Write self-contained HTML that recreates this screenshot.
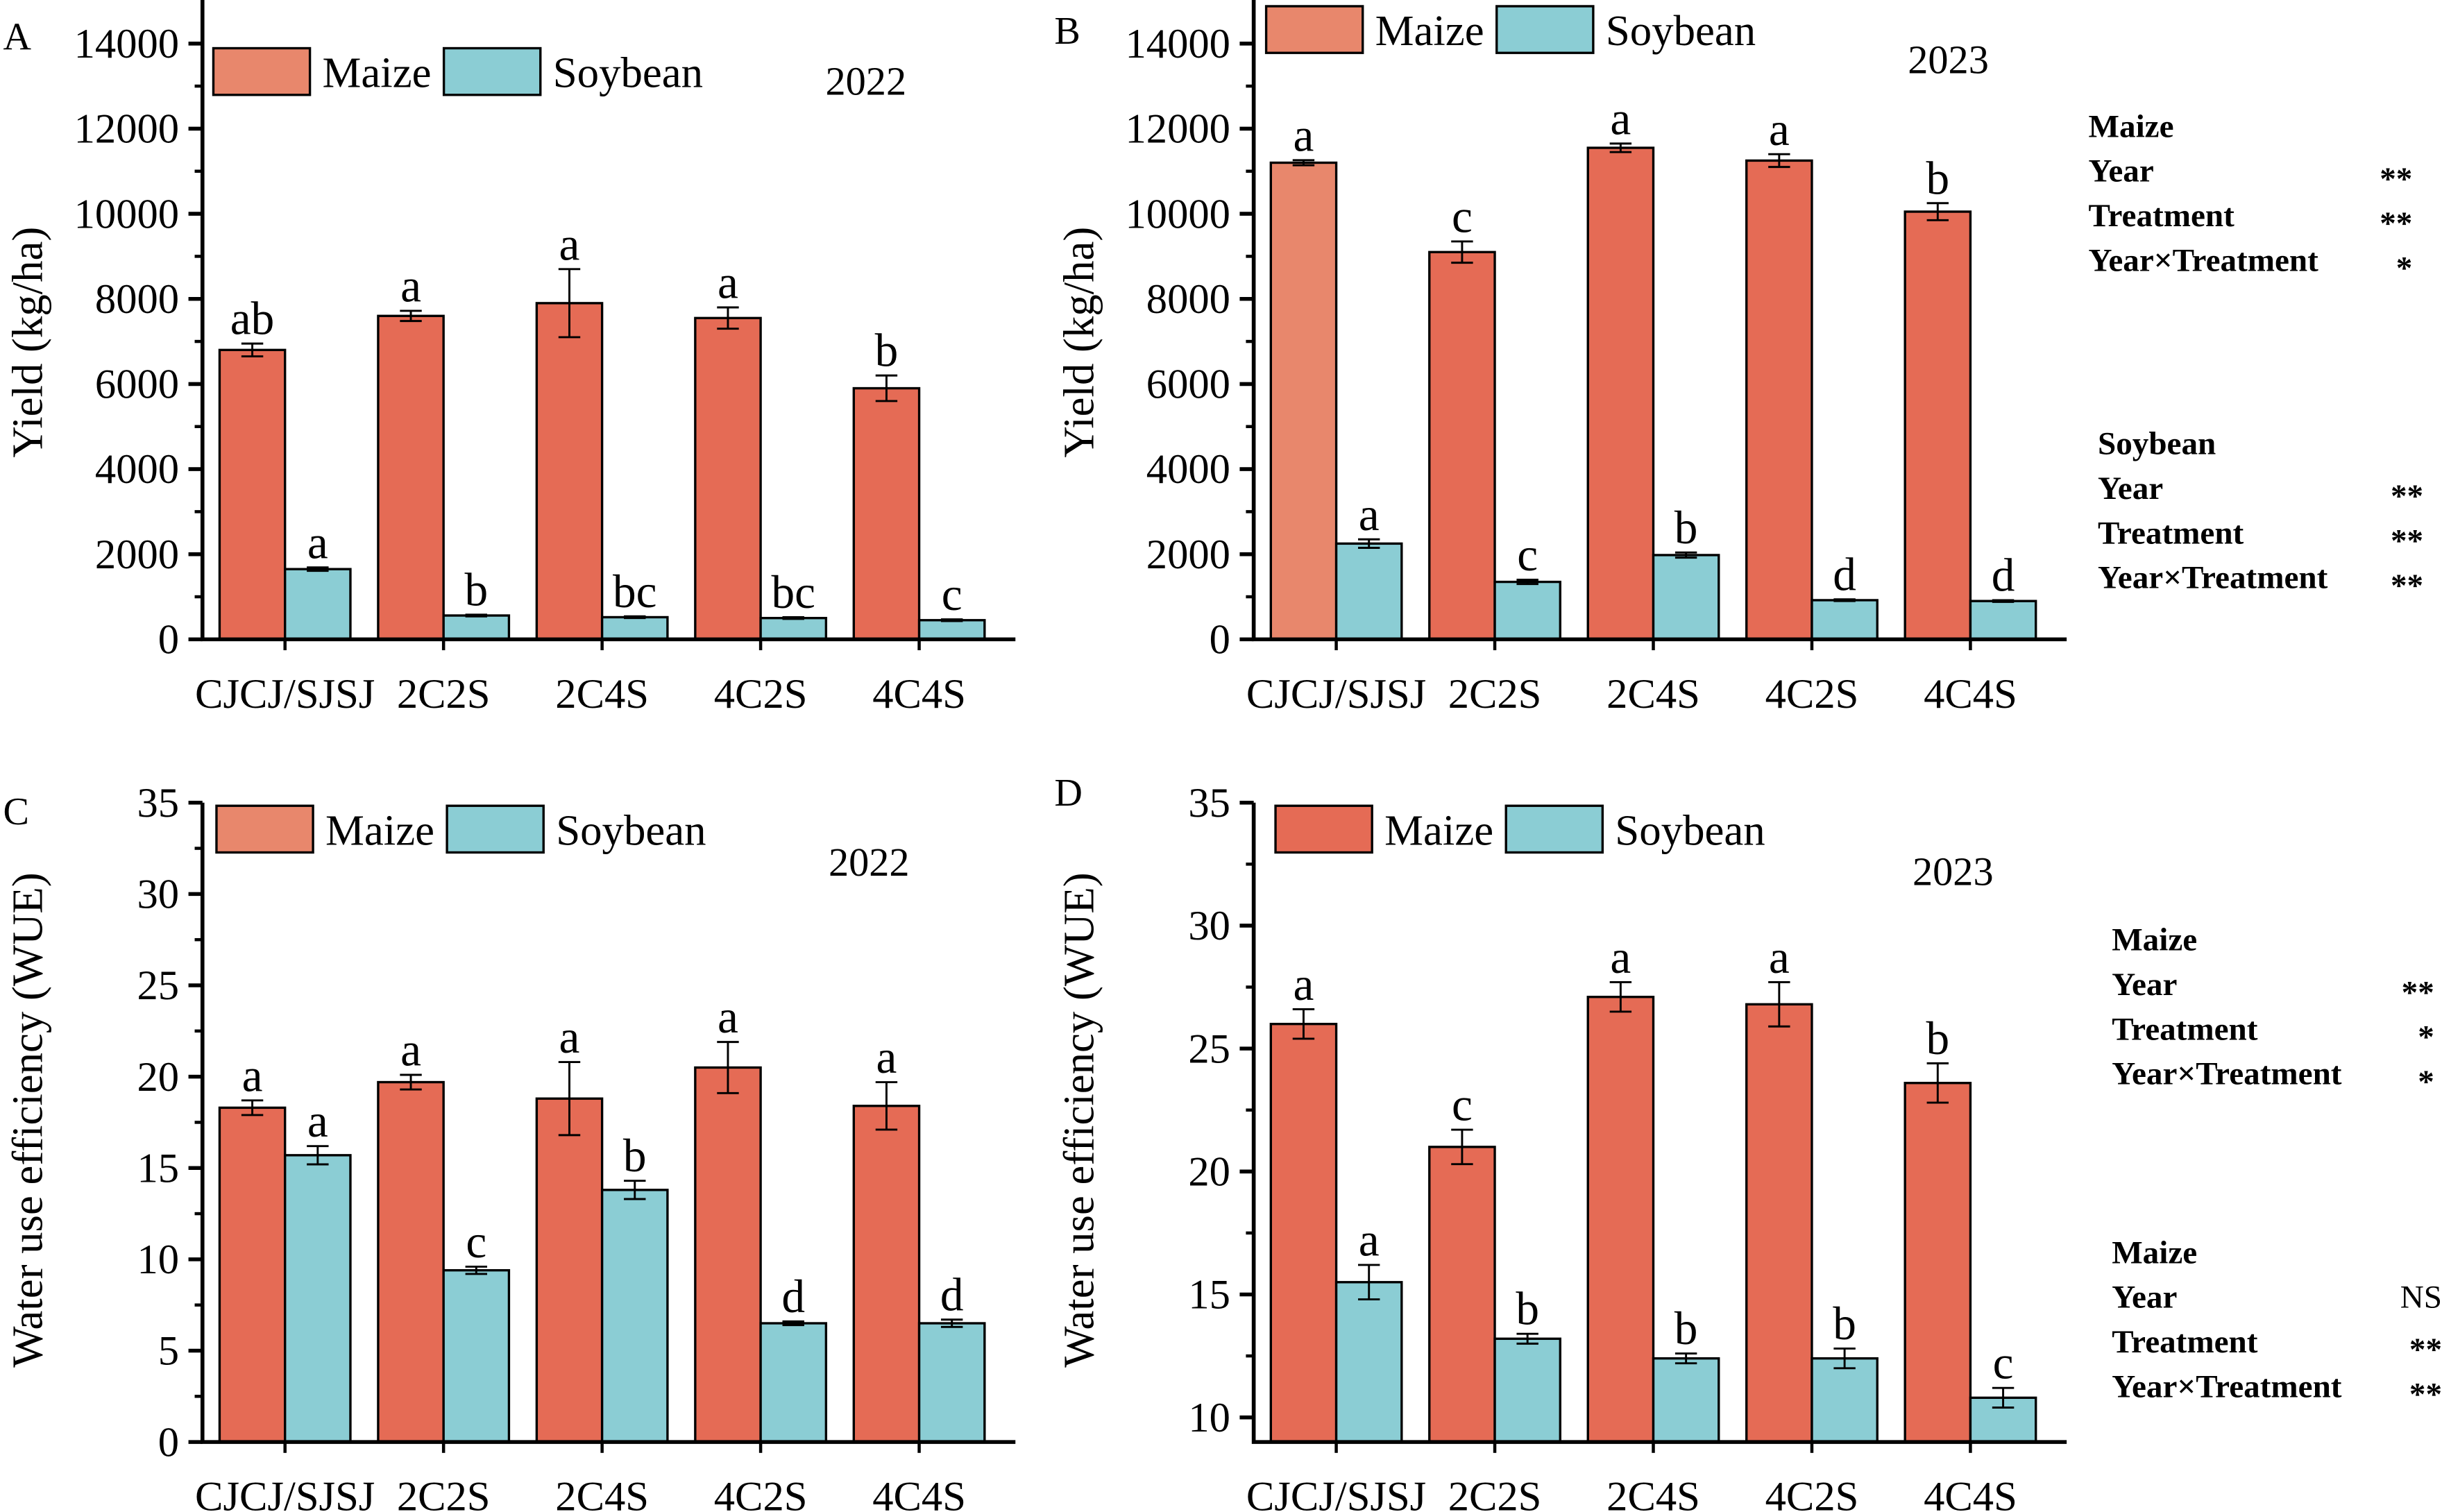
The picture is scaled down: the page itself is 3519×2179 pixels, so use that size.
<!DOCTYPE html>
<html><head><meta charset="utf-8"><style>
html,body{margin:0;padding:0;background:#fff;}
svg{display:block;font-family:"Liberation Serif",serif;}
</style></head><body>
<svg id="fig" width="3519" height="2179" viewBox="0 0 1568 972" preserveAspectRatio="none" xmlns="http://www.w3.org/2000/svg"></svg>
<script>
const categories=["CJCJ/SJSJ","2C2S","2C4S","4C2S","4C4S"];
const yieldTicks=[0,2000,4000,6000,8000,10000,12000,14000];
const wueTicksC=[0,5,10,15,20,25,30,35];
const wueTicksD=[10,15,20,25,30,35];
const aMaize=[6800,7600,7900,7550,5900];
const aMaizeErr=[150,120,800,250,300];
const aSoy=[1650,560,520,500,450];
const aSoyErr=[40,20,20,20,20];
const aMaizeLet=["ab","a","a","a","b"];
const aSoyLet=["a","b","bc","bc","c"];
const bMaize=[11200,9100,11550,11250,10050];
const bMaizeErr=[60,250,100,150,200];
const bSoy=[2250,1350,1980,920,900];
const bSoyErr=[100,50,60,20,20];
const bMaizeLet=["a","c","a","a","b"];
const bSoyLet=["a","c","b","d","d"];
const cMaize=[18.3,19.7,18.8,20.5,18.4];
const cMaizeErr=[0.4,0.4,2.0,1.4,1.3];
const cSoy=[15.7,9.4,13.8,6.5,6.5];
const cSoyErr=[0.5,0.2,0.5,0.1,0.2];
const cMaizeLet=["a","a","a","a","a"];
const cSoyLet=["a","c","b","d","d"];
const dMaize=[26,21,27.1,26.8,23.6];
const dMaizeErr=[0.6,0.7,0.6,0.9,0.8];
const dSoy=[15.5,13.2,12.4,12.4,10.8];
const dSoyErr=[0.7,0.2,0.2,0.4,0.4];
const dMaizeLet=["a","c","a","a","b"];
const dSoyLet=["a","b","b","b","c"];

const NS="http://www.w3.org/2000/svg";
const svg=document.getElementById('fig');
function mk(tag,attrs,parent,text){const e=document.createElementNS(NS,tag);for(const k in attrs)e.setAttribute(k,attrs[k]);if(text!==undefined)e.textContent=text;(parent||svg).appendChild(e);return e;}
const RED="#E56B55",LRED="#E8876C",BLUE="#8BCDD4";

function panel(o){
  const g=mk('g',{});
  
  
  const y=v=>o.y0-(v-o.vmin)/(o.vmax-o.vmin)*(o.y0-o.y1);
  const gx=i=>o.ax+11+i*101.8;
  for(let i=0;i<categories.length;i++){
    const xm=gx(i);
    const r1=mk('rect',{x:xm,y:y(o.m[i]),width:42,height:o.y0-y(o.m[i]),fill:(o.firstLight&&i===0)?LRED:RED,stroke:"#000","stroke-width":1.5},g);
    
    
    const r2=mk('rect',{x:xm+42,y:y(o.s[i]),width:42,height:o.y0-y(o.s[i]),fill:BLUE,stroke:"#000","stroke-width":1.5},g);
    
    
    [[xm+21,o.m[i],o.me[i],o.ml[i]],[xm+63,o.s[i],o.se[i],o.sl[i]]].forEach(([cx,v,e,l])=>{
      const eb=mk('path',{d:`M${cx-7},${y(v+e)}H${cx+7}M${cx},${y(v+e)}V${y(v-e)}M${cx-7},${y(v-e)}H${cx+7}`,stroke:"#000","stroke-width":1.3,fill:"none"},g);
      
      
      const t=mk('text',{x:cx,y:y(v+e)-6,"font-size":30,"text-anchor":"middle"},g,l);
      
      
    });
    const xl=mk('text',{x:xm+42,y:o.y0+44,"font-size":27,"text-anchor":"middle"},g,categories[i]);
    
    
  }
  const ax=mk('path',{d:`M${o.ax},${o.top}V${o.y0}H${o.ax+522}`,stroke:"#000","stroke-width":2.5,fill:"none"},g);
  
  
  for(let i=0;i<categories.length;i++){const xt=gx(i)+42;mk('line',{x1:xt,x2:xt,y1:o.y0,y2:o.y0+7,stroke:"#000","stroke-width":2},g);}
  o.ticks.forEach((t,k)=>{
    mk('line',{x1:o.ax-9,x2:o.ax,y1:y(t),y2:y(t),stroke:"#000","stroke-width":2.5},g);
    if(k<o.ticks.length-1){const mid=(t+o.ticks[k+1])/2;mk('line',{x1:o.ax-5,x2:o.ax,y1:y(mid),y2:y(mid),stroke:"#000","stroke-width":2},g);}
    const tl=mk('text',{x:o.ax-15,y:y(t)+9,"font-size":27,"text-anchor":"end"},g,t);
    
    
  });
  const yt=mk('text',{transform:`translate(${o.ax-103},${o.ytY}) rotate(-90)`,"font-size":28,"text-anchor":"middle"},g,o.ytitle);
  
  
  const pl=mk('text',{x:o.ax-128,y:o.labY,"font-size":25},g,o.label);
  
  
  const L=o.leg;
  const s1=mk('rect',{x:L[0],y:L[1],width:62,height:30,fill:o.legLight?LRED:RED,stroke:"#000","stroke-width":1.5},g);
  
  const t1=mk('text',{x:L[0]+70,y:L[1]+25,"font-size":28},g,"Maize");
  
  const s2=mk('rect',{x:L[0]+148,y:L[1],width:62,height:30,fill:BLUE,stroke:"#000","stroke-width":1.5},g);
  
  const t2=mk('text',{x:L[0]+218,y:L[1]+25,"font-size":28},g,"Soybean");
  
  const yr=mk('text',{x:o.yr[0],y:o.yr[1],"font-size":26},g,o.year);
  
}
panel({name:'panel-a-yield-2022',ax:130,y0:411,y1:28,top:0,vmin:0,vmax:14000,ticks:yieldTicks,m:aMaize,me:aMaizeErr,s:aSoy,se:aSoyErr,ml:aMaizeLet,sl:aSoyLet,ytitle:"Yield (kg/ha)",ytY:220,label:"A",labY:32,leg:[137,31],legLight:true,yr:[530,61],year:"2022"});
panel({name:'panel-b-yield-2023',ax:805,y0:411,y1:28,top:0,vmin:0,vmax:14000,ticks:yieldTicks,m:bMaize,me:bMaizeErr,s:bSoy,se:bSoyErr,ml:bMaizeLet,sl:bSoyLet,ytitle:"Yield (kg/ha)",ytY:220,label:"B",labY:28,leg:[813,4],legLight:true,firstLight:true,yr:[1225,47],year:"2023"});
panel({name:'panel-c-wue-2022',ax:130,y0:927,y1:516,top:516,vmin:0,vmax:35,ticks:wueTicksC,m:cMaize,me:cMaizeErr,s:cSoy,se:cSoyErr,ml:cMaizeLet,sl:cSoyLet,ytitle:"Water use efficiency (WUE)",ytY:720,label:"C",labY:530,leg:[139,518],legLight:true,yr:[532,563],year:"2022"});
panel({name:'panel-d-wue-2023',ax:805,y0:927,y1:516,top:516,vmin:9,vmax:35,ticks:wueTicksD,m:dMaize,me:dMaizeErr,s:dSoy,se:dSoyErr,ml:dMaizeLet,sl:dSoyLet,ytitle:"Water use efficiency (WUE)",ytY:720,label:"D",labY:518,leg:[819,518],legLight:false,yr:[1228,569],year:"2023"});
function stats(x,y,xs,title,vals,name){
  const g=mk('g',{});
  
  
  const rows=[title,"Year","Treatment","Year×Treatment"];
  rows.forEach((r,i)=>{mk('text',{x:x,y:y+i*28.7,"font-size":21,"font-weight":"bold"},g,r);});
  vals.forEach((v,i)=>{mk('text',{x:xs,y:y+(i+1)*28.7+(v==="NS"?0:5),"font-size":21,"font-weight":v==="NS"?"normal":"bold","text-anchor":"end"},g,v);});
}
stats(1341,88,1549,"Maize",["**","**","*"],'stats-b-maize');
stats(1347,292,1556,"Soybean",["**","**","**"],'stats-b-soybean');
stats(1356,611,1563,"Maize",["**","*","*"],'stats-d-maize');
stats(1356,812,1568,"Maize",["NS","**","**"],'stats-d-soybean');
</script>
</body></html>
